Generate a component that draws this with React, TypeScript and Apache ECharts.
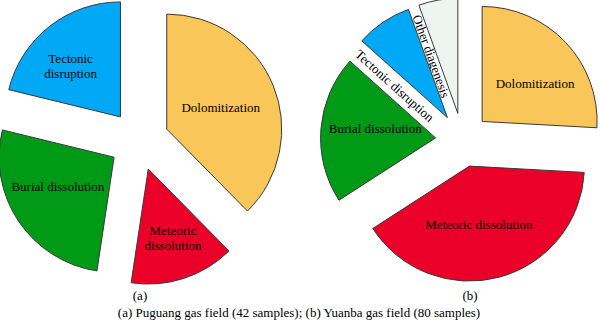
import React, { useEffect, useRef } from "react";
import * as echarts from "echarts";

// (a) Puguang gas field, 42 samples
const leftCategories = ["Dolomitization", "Meteoric dissolution", "Burial dissolution", "Tectonic disruption"];
const leftLabels = ["Dolomitization", "Meteoric\ndissolution", "Burial dissolution", "Tectonic\ndisruption"];
const leftValues = [15.8, 6.2, 11.1, 8.9];

// (b) Yuanba gas field, 80 samples
const rightCategories = ["Dolomitization", "Meteoric dissolution", "Burial dissolution", "Tectonic disruption", "Other diagenesis"];
const rightLabels = ["Dolomitization", "Meteoric dissolution", "Burial dissolution", "Tectonic disruption", "Other diagenesis"];
const rightValues = [20.7, 32.0, 16.6, 6.3, 4.4];

const subTitles = ["(a)", "(b)"];
const caption = "(a) Puguang gas field (42 samples); (b) Yuanba gas field (80 samples)";

const colorMap: Record<string, string> = {
  "Dolomitization": "#F9C65A",
  "Meteoric dissolution": "#EA0028",
  "Burial dissolution": "#009A17",
  "Tectonic disruption": "#00A8F6",
  "Other diagenesis": "#EEF5F1",
};

const FONT = "Liberation Serif";
const FONT_CSS = "13px Liberation Serif";

// layout / style settings
const LEFT_CENTER = [139, 140.5];
const RIGHT_CENTER = [462.5, 140];
const RADIUS = 115;
const LEFT_OFFSET = 30;
const RIGHT_OFFSET = 27;
const leftLabelShift: number[][] = [[-2, 1], [6, 11], [-6, -4.5], [-12.5, -3.5]];
const rightLabelShift: number[][] = [[9, 3.5], [-6, 0], [0, -4.5], [0, 0], [0, 0]];
// labels drawn along the gap before a slice (index of slice whose start edge is used)
const gapLabelIdx = [3, 4];
const GAP_DIST = 63;

export default function App() {
  const ref = useRef<HTMLDivElement>(null);
  useEffect(() => {
    if (!ref.current) return;
    const chart = echarts.init(ref.current, undefined, { renderer: "svg" });

    const labelStyle = {
      color: "#000",
      fontFamily: FONT,
      fontSize: 13,
      lineHeight: 15,
    };
    const baseLabel = { show: true, position: "inside", ...labelStyle };

    const leftData = leftCategories.map((c, i) => ({
      name: c,
      value: leftValues[i],
      selected: true,
      itemStyle: { color: colorMap[c] },
      label: { formatter: leftLabels[i], offset: leftLabelShift[i] },
      select: { label: { ...labelStyle, offset: leftLabelShift[i] } },
    }));

    const rightData = rightCategories.map((c, i) => ({
      name: c,
      value: rightValues[i],
      selected: true,
      itemStyle: { color: colorMap[c] },
      label: gapLabelIdx.includes(i)
        ? { show: false }
        : { formatter: rightLabels[i], offset: rightLabelShift[i] },
      select: { label: { ...labelStyle, offset: rightLabelShift[i] } },
    }));

    // gap labels of (b): placed along the boundary between two exploded slices
    const total = rightValues.reduce((a, b) => a + b, 0);
    const cum: number[] = [0];
    rightValues.forEach((v, i) => cum.push(cum[i] + v));
    const apex = (i: number) => {
      const mid = ((cum[i] + cum[i + 1]) / 2 / total) * 2 * Math.PI;
      return [RIGHT_CENTER[0] + RIGHT_OFFSET * Math.sin(mid), RIGHT_CENTER[1] - RIGHT_OFFSET * Math.cos(mid)];
    };
    const gapTexts = gapLabelIdx.map((i) => {
      const a1 = apex(i - 1);
      const a2 = apex(i);
      const th = (cum[i] / total) * 2 * Math.PI;
      const ux = Math.sin(th);
      const uy = -Math.cos(th);
      const mx = (a1[0] + a2[0]) / 2 + GAP_DIST * ux;
      const my = (a1[1] + a2[1]) / 2 + GAP_DIST * uy;
      const rot = -Math.atan2(-uy, -ux);
      return {
        type: "text",
        x: mx,
        y: my,
        rotation: rot,
        style: { text: rightLabels[i], font: FONT_CSS, fill: "#000", textAlign: "center", textVerticalAlign: "middle" },
      };
    });

    const common = {
      type: "pie",
      radius: RADIUS,
      startAngle: 90,
      clockwise: true,
      selectedMode: "multiple",
      silent: true,
      avoidLabelOverlap: false,
      label: baseLabel,
      select: { label: labelStyle },
      labelLine: { show: false },
      itemStyle: { borderColor: "#3a3a3a", borderWidth: 1 },
      emphasis: { disabled: true },
    };

    chart.setOption({
      animation: false,
      backgroundColor: "#fff",
      textStyle: { fontFamily: FONT, color: "#000" },
      series: [
        { ...common, center: LEFT_CENTER, selectedOffset: LEFT_OFFSET, data: leftData },
        { ...common, center: RIGHT_CENTER, selectedOffset: RIGHT_OFFSET, data: rightData },
      ],
      graphic: [
        ...gapTexts,
        {
          type: "text",
          x: 140,
          y: 295,
          style: { text: subTitles[0], font: FONT_CSS, fill: "#000", textAlign: "center", textVerticalAlign: "middle" },
        },
        {
          type: "text",
          x: 470,
          y: 295,
          style: { text: subTitles[1], font: FONT_CSS, fill: "#000", textAlign: "center", textVerticalAlign: "middle" },
        },
        {
          type: "text",
          x: 299,
          y: 312,
          style: { text: caption, font: FONT_CSS, fill: "#000", textAlign: "center", textVerticalAlign: "middle" },
        },
      ],
    });
    return () => chart.dispose();
  }, []);
  return <div ref={ref} style={{ position: "fixed", left: 0, top: 0, width: 600, height: 324 }} />;
}
